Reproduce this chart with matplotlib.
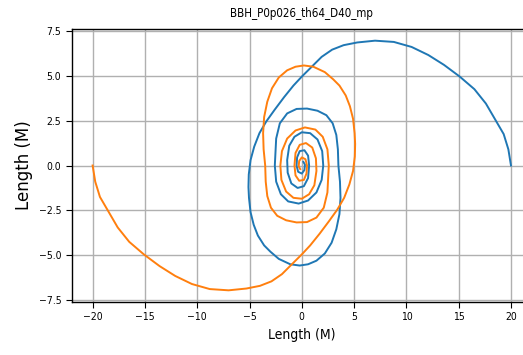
import numpy as np
import matplotlib
matplotlib.use("Agg")
import matplotlib.pyplot as plt

# puncture track of BH 1 (blue); BH 2 is the point mirror of it
bh1_x = [20.0, 19.75, 19.3, 18.5, 17.6, 16.5, 15.1, 13.6, 12.1, 10.5, 8.8, 7.0,
         5.3, 4.0, 2.9, 1.9, 0.9, 0.0, -0.8, -1.7, -2.6, -3.4, -4.05, -4.55,
         -4.9, -5.07, -5.1, -5.05, -4.9, -4.6, -4.2, -3.6, -3.0, -2.2, -1.1,
         -0.2, 0.6, 1.4, 2.2, 2.85, 3.3, 3.6, 3.7, 3.65, 3.5, 3.45, 3.3, 2.95,
         2.35, 1.5, 0.5, -0.5, -1.4, -2.1, -2.45, -2.58, -2.45, -2.0, -1.3,
         -0.3, 0.6, 1.4, 1.9, 2.05, 1.95, 1.5, 0.8, 0.0, -0.7, -1.2, -1.4,
         -1.35, -1.0, -0.4, 0.2, 0.6, 0.7, 0.6, 0.25, -0.2, -0.45, -0.5,
         -0.35, 0.0, 0.25, 0.3, 0.15]
bh1_y = [0.0, 0.9, 1.75, 2.55, 3.45, 4.25, 4.95, 5.6, 6.15, 6.6, 6.88, 6.95,
         6.85, 6.7, 6.45, 6.05, 5.47, 4.95, 4.45, 3.8, 3.1, 2.45, 1.8, 1.05,
         0.3, -0.5, -1.2, -1.8, -2.6, -3.3, -3.9, -4.45, -4.8, -5.2, -5.5,
         -5.57, -5.5, -5.3, -4.9, -4.3, -3.55, -2.7, -1.8, -0.9, 0.0, 0.9,
         1.7, 2.35, 2.8, 3.05, 3.17, 3.15, 2.9, 2.35, 1.5, 0.0, -0.9, -1.6,
         -2.0, -2.12, -1.95, -1.5, -0.8, 0.0, 0.8, 1.45, 1.8, 1.85, 1.6, 1.1,
         0.3, -0.4, -1.0, -1.25, -1.15, -0.7, 0.0, 0.55, 0.85, 0.8, 0.45, 0.0,
         -0.35, -0.45, -0.25, 0.05, 0.2]
bh2_x = [-v for v in bh1_x]
bh2_y = [-v for v in bh1_y]

title = "BBH_P0p026_th64_D40_mp"
xticks = [-20, -15, -10, -5, 0, 5, 10, 15, 20]
yticks = [-7.5, -5.0, -2.5, 0.0, 2.5, 5.0, 7.5]

plt.rcParams['font.family'] = ['DejaVu Sans']
plt.rcParams['font.stretch'] = 'condensed'

fig = plt.figure(figsize=(5.23, 3.55), dpi=100)
# axes runs past the right edge like in the original screenshot
ax = fig.add_axes([71.7/523, 53/355, 460.2/523, 273/355])

ax.plot(bh1_x, bh1_y, color='#1f77b4', lw=1.4)
ax.plot(bh2_x, bh2_y, color='#ff7f0e', lw=1.4)

ax.set_xlim(-22, 22)
ax.set_ylim(-7.6, 7.6)
ax.set_xticks(xticks)
ax.set_yticks(yticks)
ax.tick_params(labelsize=7.5, length=4)
ax.grid(True, color='#b0b0b0', lw=1.0)
for s in ax.spines.values():
    s.set_linewidth(1.0)

ax.set_title(title, fontsize=8.3, pad=9)
ax.set_xlabel("Length (M)", fontsize=10)
ax.set_ylabel("Length (M)", fontsize=12, fontstretch='normal')

fig.savefig("out.png", dpi=100)
